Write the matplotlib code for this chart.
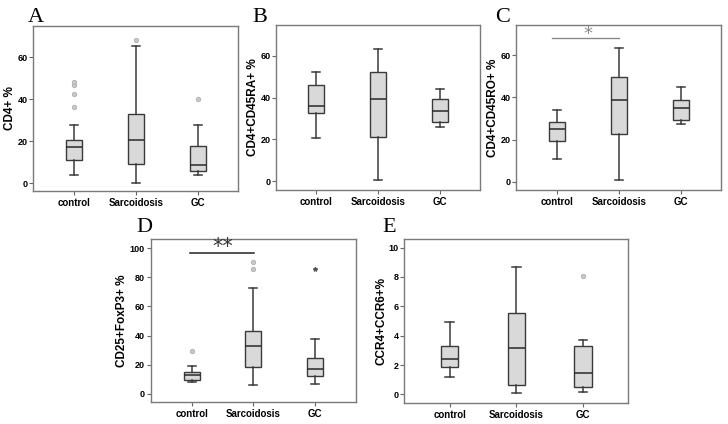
import numpy as np
import matplotlib
matplotlib.use('Agg')
import matplotlib.pyplot as plt

plt.rcParams['font.family'] = ['Liberation Sans', 'DejaVu Sans']

groups = ['control', 'Sarcoidosis', 'GC']

# A: CD4+ %
cd4_whislo = [3.8, 0.0, 3.8]
cd4_q1 = [11.0, 9.2, 5.9]
cd4_med = [17.1, 20.5, 8.7]
cd4_q3 = [20.3, 32.7, 17.5]
cd4_whishi = [27.5, 65.4, 27.6]
cd4_out = [[36.3, 42.5, 46.9, 48.1], [68.3], [40.2]]

# B: CD4+CD45RA+ %
ra_whislo = [20.7, 0.8, 26.0]
ra_q1 = [32.5, 21.3, 28.3]
ra_med = [36.0, 39.3, 33.6]
ra_q3 = [45.9, 52.2, 39.5]
ra_whishi = [52.4, 63.1, 44.0]
ra_out = [[], [], []]

# C: CD4+CD45RO+ %
ro_whislo = [10.9, 0.9, 27.4]
ro_q1 = [19.5, 22.7, 29.3]
ro_med = [25.0, 39.0, 35.0]
ro_q3 = [28.2, 49.8, 38.6]
ro_whishi = [34.2, 63.6, 44.9]
ro_out = [[], [], []]

# D: CD25+FoxP3+ %
treg_whislo = [8.3, 6.0, 6.9]
treg_q1 = [9.6, 18.3, 12.4]
treg_med = [12.8, 32.6, 16.7]
treg_q3 = [15.1, 43.3, 24.8]
treg_whishi = [19.0, 72.7, 37.6]
treg_out = [[29.4], [86.0, 90.4], []]
treg_extreme = [[], [], [86.0]]

# E: CCR4+CCR6+%
th17_whislo = [1.2, 0.07, 0.18]
th17_q1 = [1.84, 0.64, 0.52]
th17_med = [2.39, 3.18, 1.48]
th17_q3 = [3.27, 5.57, 3.32]
th17_whishi = [4.9, 8.7, 3.73]
th17_out = [[], [], [8.1]]

W, H = 728, 424
fig = plt.figure(figsize=(W / 100, H / 100), dpi=100)


def px_axes(l, r, t, b):
    return fig.add_axes([l / W, 1 - b / H, (r - l) / W, (b - t) / H])


def draw_panel(ax, whislo, q1, med, q3, whishi, out, ylabel, ylim, yticks, xlim):
    stats = []
    for i in range(len(groups)):
        stats.append({'whislo': whislo[i], 'q1': q1[i], 'med': med[i],
                      'q3': q3[i], 'whishi': whishi[i],
                      'fliers': np.array(out[i])})
    pos = np.arange(1, len(groups) + 1)
    ax.bxp(stats, positions=pos, widths=0.26, capwidths=0.13,
           patch_artist=True, showfliers=True,
           boxprops=dict(facecolor='#d9d9d9', edgecolor='#3a3a3a', linewidth=1.0),
           medianprops=dict(color='#2a2a2a', linewidth=1.1),
           whiskerprops=dict(color='#3a3a3a', linewidth=1.1),
           capprops=dict(color='#3a3a3a', linewidth=1.1),
           flierprops=dict(marker='o', markersize=3.2, markerfacecolor='#c8c8c8',
                           markeredgecolor='#b0b0b0', markeredgewidth=0.6))
    ax.set_xlim(xlim)
    ax.set_ylim(ylim)
    ax.set_yticks(yticks)
    ax.set_xticks(pos)
    ax.set_xticklabels(groups, fontsize=7, fontweight='bold')
    ax.set_yticklabels([str(t) for t in yticks], fontsize=6.5, fontweight='bold')
    ax.tick_params(axis='both', length=3, width=0.8, color='#666666', pad=2)
    ax.tick_params(axis='y', pad=1)
    ax.set_ylabel(ylabel, fontsize=8.5, fontweight='bold', labelpad=1)
    for sp in ax.spines.values():
        sp.set_color('#7a7a7a')
        sp.set_linewidth(1.0)


axA = px_axes(33.3, 238, 26, 191)
draw_panel(axA, cd4_whislo, cd4_q1, cd4_med, cd4_q3, cd4_whishi, cd4_out,
           'CD4+ %', (-3.8, 74.8), [0, 20, 40, 60], (0.35, 3.65))

axB = px_axes(276, 480.3, 25, 190)
draw_panel(axB, ra_whislo, ra_q1, ra_med, ra_q3, ra_whishi, ra_out,
           'CD4+CD45RA+ %', (-4.1, 74.6), [0, 20, 40, 60], (0.35, 3.65))

axC = px_axes(516.3, 721.3, 25, 190)
draw_panel(axC, ro_whislo, ro_q1, ro_med, ro_q3, ro_whishi, ro_out,
           'CD4+CD45RO+ %', (-3.8, 74.3), [0, 20, 40, 60], (0.35, 3.65))
axC.plot([0.92, 2.0], [68.2, 68.2], color='#8a8a8a', lw=1.0)
axC.text(1.5, 70.0, '*', ha='center', va='center', fontsize=13,
         color='#8a8a8a', family='DejaVu Sans')

axD = px_axes(150.5, 356, 239.3, 401.7)
draw_panel(axD, treg_whislo, treg_q1, treg_med, treg_q3, treg_whishi, treg_out,
           'CD25+FoxP3+ %', (-5.5, 106.2), [0, 20, 40, 60, 80, 100], (0.33, 3.67))
for i, vals in enumerate(treg_extreme):
    if vals:
        axD.plot([i + 1] * len(vals), vals, linestyle='none', marker='*',
                 markersize=3, color='#555555')
axD.plot([0.97, 2.01], [96.6, 96.6], color='#222222', lw=1.1)
axD.text(1.5, 101.0, '**', ha='center', va='center', fontsize=15,
         color='#333333', family='DejaVu Sans')

axE = px_axes(404.3, 628.3, 239.3, 402.7)
draw_panel(axE, th17_whislo, th17_q1, th17_med, th17_q3, th17_whishi, th17_out,
           'CCR4+CCR6+%', (-0.57, 10.57), [0, 2, 4, 6, 8, 10], (0.32, 3.68))

# panel letters
for letter, x, y in [('A', 28, 22), ('B', 252, 22), ('C', 495, 22),
                     ('D', 136, 232), ('E', 382, 232)]:
    fig.text(x / W, 1 - y / H, letter, fontsize=16, family='Liberation Serif',
             ha='left', va='baseline')

fig.savefig('out.png', dpi=100)
